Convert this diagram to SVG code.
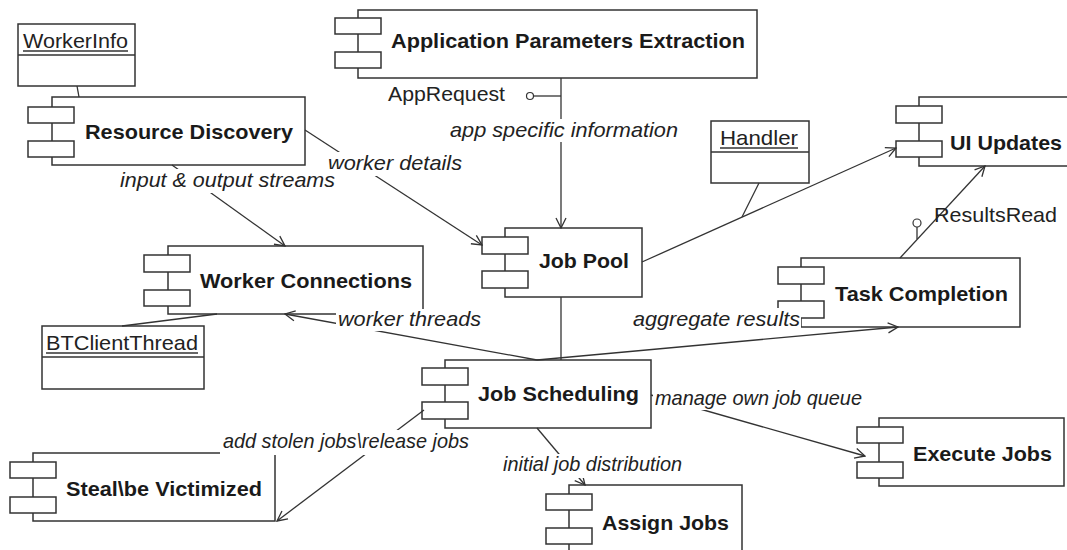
<svg xmlns="http://www.w3.org/2000/svg" width="1067" height="550" viewBox="0 0 1067 550">
  <style>
    .box { fill: #fff; stroke: #333; stroke-width: 1.5; }
    .tab { fill: #fff; stroke: #333; stroke-width: 1.5; }
    .title { font-family: "Liberation Sans", Arial, sans-serif; font-size: 21px; font-weight: bold; fill: #1a1a1a; }
    .cls { font-family: "Liberation Sans", Arial, sans-serif; font-size: 21px; fill: #222; }
    .lbl { font-family: "Liberation Sans", Arial, sans-serif; font-size: 21px; font-style: italic; fill: #222; }
    .plain { font-family: "Liberation Sans", Arial, sans-serif; font-size: 21px; fill: #222; }
    .edge { fill: none; stroke: #333; stroke-width: 1.3; }
    .arrow { fill: none; stroke: #333; stroke-width: 1.3; marker-end: url(#open); }
    .bg { fill: #fff; stroke: none; }
    .ul { stroke: #333; stroke-width: 1.3; }
  </style>
  <defs>
    <marker id="open" viewBox="0 0 12 12" refX="11" refY="6" markerWidth="12" markerHeight="12" markerUnits="userSpaceOnUse" orient="auto">
      <path d="M1,1 L11,6 L1,11" fill="none" stroke="#333" stroke-width="1.3"/>
    </marker>
  </defs>
  <rect width="1067" height="550" fill="#fff"/>

  <!-- class boxes -->
  <g id="workerinfo">
    <rect class="box" x="18" y="24" width="117" height="62"/>
    <line class="ul" x1="18" y1="55" x2="135" y2="55"/>
    <text class="cls" x="23" y="48" textLength="105" lengthAdjust="spacingAndGlyphs">WorkerInfo</text>
    <line class="ul" x1="23" y1="51" x2="128" y2="51"/>
  </g>
  <g id="handler">
    <rect class="box" x="711" y="121" width="98" height="62"/>
    <line class="ul" x1="711" y1="152" x2="809" y2="152"/>
    <text class="cls" x="720" y="145" textLength="78" lengthAdjust="spacingAndGlyphs">Handler</text>
    <line class="ul" x1="720" y1="148" x2="798" y2="148"/>
  </g>
  <g id="btclientthread">
    <rect class="box" x="42" y="326" width="162" height="63"/>
    <line class="ul" x1="42" y1="357" x2="204" y2="357"/>
    <text class="cls" x="46" y="350" textLength="152" lengthAdjust="spacingAndGlyphs">BTClientThread</text>
    <line class="ul" x1="46" y1="353" x2="198" y2="353"/>
  </g>

  <!-- components -->
  <g id="resource-discovery">
    <rect class="box" x="52" y="97" width="253" height="68"/>
    <rect class="tab" x="28" y="107" width="46" height="16"/>
    <rect class="tab" x="28" y="141" width="46" height="16"/>
    <text class="title" x="85" y="139" textLength="208" lengthAdjust="spacingAndGlyphs">Resource Discovery</text>
  </g>
  <g id="app-params">
    <rect class="box" x="358" y="10" width="399" height="68"/>
    <rect class="tab" x="335" y="18" width="46" height="16"/>
    <rect class="tab" x="335" y="52" width="46" height="16"/>
    <text class="title" x="391" y="48" textLength="354" lengthAdjust="spacingAndGlyphs">Application Parameters Extraction</text>
  </g>
  <g id="job-pool">
    <rect class="box" x="505" y="228" width="137" height="69"/>
    <rect class="tab" x="482" y="237" width="46" height="17"/>
    <rect class="tab" x="482" y="271" width="46" height="17"/>
    <text class="title" x="539" y="268" textLength="90" lengthAdjust="spacingAndGlyphs">Job Pool</text>
  </g>
  <g id="ui-updates">
    <rect class="box" x="919" y="97" width="160" height="69"/>
    <rect class="tab" x="896" y="106" width="46" height="17"/>
    <rect class="tab" x="896" y="141" width="46" height="16"/>
    <text class="title" x="950" y="150" textLength="112" lengthAdjust="spacingAndGlyphs">UI Updates</text>
  </g>
  <g id="worker-connections">
    <rect class="box" x="168" y="246" width="255" height="68"/>
    <rect class="tab" x="144" y="255" width="46" height="17"/>
    <rect class="tab" x="144" y="290" width="46" height="16"/>
    <text class="title" x="200" y="288" textLength="212" lengthAdjust="spacingAndGlyphs">Worker Connections</text>
  </g>
  <g id="task-completion">
    <rect class="box" x="801" y="258" width="219" height="69"/>
    <rect class="tab" x="778" y="267" width="46" height="17"/>
    <rect class="tab" x="778" y="301" width="46" height="17"/>
    <text class="title" x="835" y="301" textLength="173" lengthAdjust="spacingAndGlyphs">Task Completion</text>
  </g>
  <g id="job-scheduling">
    <rect class="box" x="445" y="360" width="206" height="68"/>
    <rect class="tab" x="422" y="368" width="46" height="17"/>
    <rect class="tab" x="422" y="402" width="46" height="17"/>
    <text class="title" x="478" y="401" textLength="161" lengthAdjust="spacingAndGlyphs">Job Scheduling</text>
  </g>
  <g id="execute-jobs">
    <rect class="box" x="879" y="418" width="185" height="68"/>
    <rect class="tab" x="857" y="427" width="46" height="16"/>
    <rect class="tab" x="857" y="462" width="46" height="16"/>
    <text class="title" x="913" y="461" textLength="139" lengthAdjust="spacingAndGlyphs">Execute Jobs</text>
  </g>
  <g id="steal-victimized">
    <rect class="box" x="33" y="453" width="242" height="68"/>
    <rect class="tab" x="10" y="462" width="46" height="16"/>
    <rect class="tab" x="10" y="497" width="46" height="16"/>
    <text class="title" x="66" y="496" textLength="196" lengthAdjust="spacingAndGlyphs">Steal\be Victimized</text>
  </g>
  <g id="assign-jobs">
    <rect class="box" x="569" y="485" width="173" height="80"/>
    <rect class="tab" x="546" y="494" width="46" height="16"/>
    <rect class="tab" x="546" y="528" width="46" height="16"/>
    <text class="title" x="602" y="530" textLength="127" lengthAdjust="spacingAndGlyphs">Assign Jobs</text>
  </g>

  <!-- connectors and their labels -->
  <g id="connectors">
    <line class="edge" x1="77" y1="86" x2="79" y2="97"/>
    <line class="arrow" x1="561" y1="78" x2="561" y2="228"/>
    <line class="edge" x1="534" y1="96" x2="561" y2="96"/>
    <circle cx="530" cy="96" r="3.5" fill="#fff" stroke="#333" stroke-width="1.2"/>
    <line class="arrow" x1="305" y1="130" x2="482" y2="245"/>
    <line class="arrow" x1="172" y1="165" x2="285" y2="246"/>
    <line class="edge" x1="561" y1="297" x2="561" y2="360"/>
    <line class="arrow" x1="537" y1="360" x2="285" y2="314"/>
    <line class="edge" x1="217" y1="314" x2="122" y2="326"/>
    <line class="arrow" x1="537" y1="360" x2="898" y2="327"/>
    <line class="arrow" x1="642" y1="262" x2="896" y2="148"/>
    <line class="edge" x1="759" y1="183" x2="742" y2="217"/>
    <line class="arrow" x1="900" y1="258" x2="985" y2="166"/>
    <line class="edge" x1="917" y1="227" x2="917" y2="239"/>
    <circle cx="917" cy="223" r="4" fill="#fff" stroke="#333" stroke-width="1.2"/>
    <line class="arrow" x1="651" y1="395" x2="865" y2="456"/>
    <line class="arrow" x1="424" y1="410" x2="277" y2="521"/>
    <line class="arrow" x1="537" y1="428" x2="585" y2="485"/>

    <text class="plain" x="388" y="101" textLength="117" lengthAdjust="spacingAndGlyphs">AppRequest</text>
    <rect class="bg" x="447" y="119" width="234" height="23"/>
    <text class="lbl" x="450" y="137" textLength="228" lengthAdjust="spacingAndGlyphs">app specific information</text>
    <rect class="bg" x="326" y="152" width="138" height="24"/>
    <text class="lbl" x="328" y="170" textLength="134" lengthAdjust="spacingAndGlyphs">worker details</text>
    <rect class="bg" x="118" y="169" width="222" height="24"/>
    <text class="lbl" x="120" y="187" textLength="215" lengthAdjust="spacingAndGlyphs">input &amp; output streams</text>
    <rect class="bg" x="336" y="309" width="148" height="22"/>
    <text class="lbl" x="338" y="326" textLength="143" lengthAdjust="spacingAndGlyphs">worker threads</text>
    <rect class="bg" x="630" y="308" width="171" height="23"/>
    <text class="lbl" x="633" y="326" textLength="167" lengthAdjust="spacingAndGlyphs">aggregate results</text>
    <text class="plain" x="934" y="222" textLength="123" lengthAdjust="spacingAndGlyphs">ResultsRead</text>
    <rect class="bg" x="653" y="387" width="212" height="23"/>
    <text class="lbl" x="655" y="405" textLength="207" lengthAdjust="spacingAndGlyphs">manage own job queue</text>
    <rect class="bg" x="220" y="430" width="252" height="25"/>
    <text class="lbl" x="223" y="448" textLength="246" lengthAdjust="spacingAndGlyphs">add stolen jobs\release jobs</text>
    <rect class="bg" x="501" y="454" width="184" height="24"/>
    <text class="lbl" x="503" y="471" textLength="179" lengthAdjust="spacingAndGlyphs">initial job distribution</text>
  </g>
</svg>
